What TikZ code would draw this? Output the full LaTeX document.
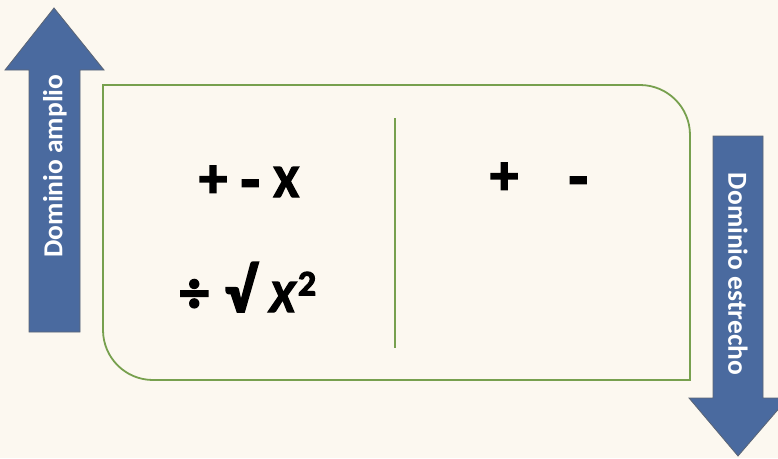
\documentclass[tikz,border=0pt]{standalone}
\usepackage{fontspec}
\setmainfont{Carlito}
\newfontfamily\heavyfont{Carlito}[BoldFeatures={FakeBold=3}, BoldItalicFeatures={FakeBold=3}]
\definecolor{bg}{HTML}{FCF8F0}
\definecolor{arrowblue}{HTML}{4A6A9F}
\definecolor{arrowedge}{HTML}{5B6575}
\definecolor{boxgreen}{HTML}{77A04E}
\newcommand{\fsz}[1]{\fontsize{#1}{#1}\selectfont}
\newcommand{\bigminus}{\raisebox{-4pt}{\fsz{62}-}}
\tikzset{
  bigarrow/.style={fill=arrowblue, draw=arrowedge, line width=0.8pt},
  arrowlabel/.style={text=white, font=\fontsize{27.5}{30}\selectfont\bfseries, inner sep=0pt},
  mathlabel/.style={text=black, font=\heavyfont\fontsize{46}{50}\selectfont\bfseries, inner sep=0pt, anchor=base},
  frame/.style={draw=boxgreen, line width=1.8pt},
}
\begin{document}
\begin{tikzpicture}[x=1pt,y=-1pt]
\useasboundingbox[fill=bg] (0,0) rectangle (778,458);
% left arrow
\draw[bigarrow] (29,332) -- (29,70) -- (5,70) -- (54,8) -- (104,70) -- (80,70) -- (80,332) -- cycle;
\node[arrowlabel, rotate=90] (amplio) at (55,166) {Dominio amplio};
% frame
\draw[frame] (103,85) -- (640,85) arc[start angle=-90, end angle=0, radius=50] -- (690,380) -- (153,380) arc[start angle=90, end angle=180, radius=50] -- cycle;
\coordinate (divtop) at (395,118);
\coordinate (divbot) at (395,348);
\draw[draw=boxgreen, line width=1.3pt] (divtop) -- (divbot);
% right arrow
\begin{scope}
\clip (0,0) rectangle (778,458);
\draw[bigarrow] (713,136) -- (763,136) -- (763,398) -- (788,398) -- (738,456) -- (689,398) -- (713,398) -- cycle;
\end{scope}
\node[arrowlabel, rotate=-90] (estrecho) at (738,274) {Dominio estrecho};
% texts
\node[mathlabel] (ops1) at (249,197) {{\fsz{56}+}\hspace{0.3em}\bigminus\hspace{0.3em}X};
\node[mathlabel] (ops2) at (248,312) {{\fsz{58}÷}\hspace{0.35em}{\fsz{62}√}\hspace{0.3em}\textit{X}\hspace{0.03em}\raisebox{0.36em}{\fsz{36}2}};
\node[mathlabel] (ops3) at (539,194) {{\fsz{56}+}\hspace{1.1em}\bigminus};
\end{tikzpicture}
\end{document}
